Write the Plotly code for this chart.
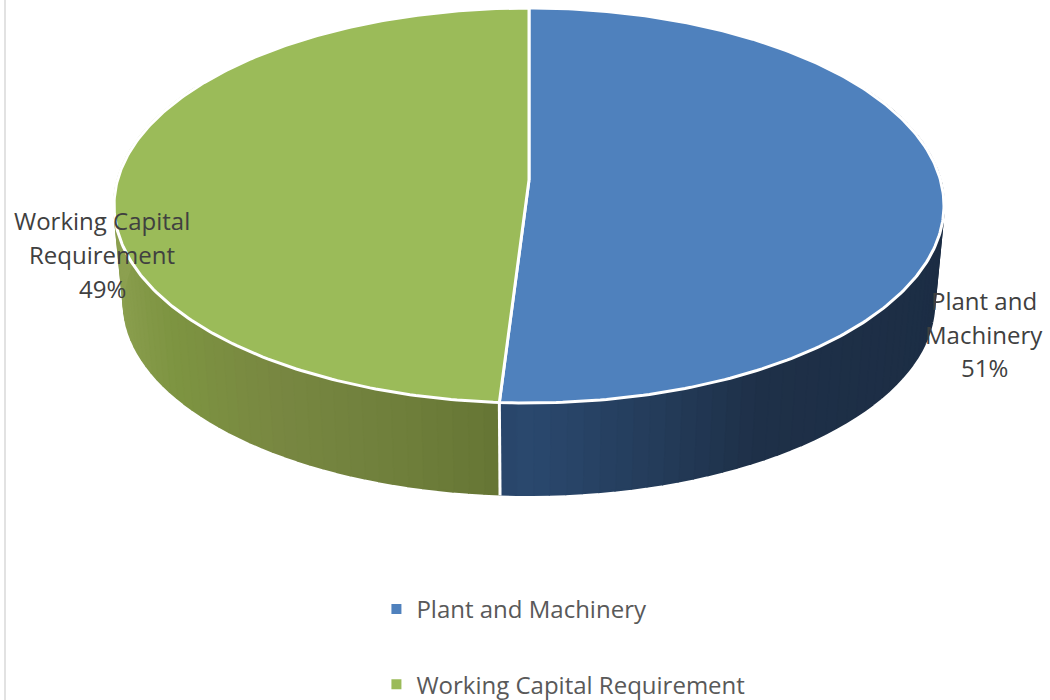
import numpy as np
import plotly.graph_objects as go

# Funding split shown on the pie
categories = ["Plant and Machinery", "Working Capital Requirement"]
shares = [51, 49]
label_lines = [["Plant and", "Machinery"], ["Working Capital", "Requirement"]]

top_colors = ["#4F81BD", "#9BBB59"]
# Side wall shading: (sideways offset from the disc's axis, 0 to 1, colour)
wall_shades = [
    [(0.0, (42, 72, 110)), (0.27, (36, 60, 90)), (0.5, (30, 48, 72)), (1.0, (28, 45, 68))],
    [(0.0, (99, 115, 50)), (0.3, (112, 128, 60)), (0.55, (120, 135, 65)),
     (0.8, (125, 148, 65)), (1.0, (140, 160, 80))],
]
label_centers = [(984, [300, 334, 367]), (102, [220, 254, 288])]

# Perspective disc: the top face and the base share one projection
CX, CY_TOP, CY_BASE = 529.0, 180.0, 278.0
A_TOP, A_BASE, B_TOP, B_BASE, K = 411.5, 402.0, 194.2, 189.0, 0.129


def project(theta_deg, a, b, cy):
    t = np.radians(theta_deg)
    u, v = np.sin(t), np.cos(t)
    w = 1 + K * v
    return CX + a * u / w, cy - b * v / w


def lerp_color(stops, f):
    for (f0, c0), (f1, c1) in zip(stops, stops[1:]):
        if f <= f1:
            s = (f - f0) / (f1 - f0)
            rgb = [round(p + (q - p) * s) for p, q in zip(c0, c1)]
            return f"rgb({rgb[0]},{rgb[1]},{rgb[2]})"
    return "rgb({},{},{})".format(*stops[-1][1])


total = sum(shares)
edges = np.concatenate([[0], np.cumsum(shares) / total * 360])

fig = go.Figure()

# Side walls, as thin shaded strips per slice
for i in range(len(shares)):
    lo, hi = max(edges[i], 60.0), min(edges[i + 1], 300.0)
    steps = np.linspace(lo, hi, 61)
    for j in range(len(steps) - 1):
        arc = np.linspace(steps[j], steps[j + 1], 5)
        xt, yt = project(arc, A_TOP, B_TOP, CY_TOP)
        xb, yb = project(arc[::-1], A_BASE, B_BASE, CY_BASE)
        offset = abs(np.sin(np.radians((steps[j] + steps[j + 1]) / 2)))
        col = lerp_color(wall_shades[i], offset)
        fig.add_trace(go.Scatter(
            x=np.concatenate([xt, xb]), y=np.concatenate([yt, yb]),
            fill="toself", fillcolor=col, mode="lines",
            line=dict(color=col, width=2), hoverinfo="skip", showlegend=False,
        ))

# White seam between the two walls at the front
seam_theta = edges[1]
xt, yt = project(seam_theta, A_TOP, B_TOP, CY_TOP)
xb, yb = project(seam_theta, A_BASE, B_BASE, CY_BASE)
fig.add_trace(go.Scatter(
    x=[xt, xb], y=[yt, yb + 1], mode="lines",
    line=dict(color="white", width=3), hoverinfo="skip", showlegend=False,
))

# Top faces
for i, name in enumerate(categories):
    arc = np.linspace(edges[i], edges[i + 1], 240)
    x, y = project(arc, A_TOP, B_TOP, CY_TOP)
    cx0, cy0 = project(0.0, 0.0, 0.0, CY_TOP)
    fig.add_trace(go.Scatter(
        x=np.concatenate([[cx0], x, [cx0]]), y=np.concatenate([[cy0], y, [cy0]]),
        fill="toself", fillcolor=top_colors[i], mode="lines",
        line=dict(color="white", width=3), hoverinfo="text",
        text=f"{name}: {shares[i]}%", showlegend=False,
    ))

# Legend entries, each in its own group so the gap between them can be set
for i, name in enumerate(categories):
    fig.add_trace(go.Scatter(
        x=[None], y=[None], mode="markers", name=name, legendgroup=name,
        marker=dict(symbol="square", size=10, color=top_colors[i]),
    ))

# Data labels, one annotation per text line
for i, lines in enumerate(label_lines):
    xc, ys = label_centers[i]
    for text, yp in zip(lines + [f"{shares[i]}%"], ys):
        fig.add_annotation(
            x=xc, y=yp, text=text, showarrow=False, xanchor="center", yanchor="middle",
            font=dict(family="Open Sans", size=24, color="#404040"),
        )

fig.update_layout(
    width=1050, height=700, margin=dict(l=0, r=0, t=0, b=0, autoexpand=False),
    paper_bgcolor="white", plot_bgcolor="white",
    xaxis=dict(range=[0, 1050], visible=False, fixedrange=True),
    yaxis=dict(range=[700, 0], visible=False, fixedrange=True),
    showlegend=True,
    legend=dict(
        x=0.3585, y=1 - 587 / 700, xanchor="left", yanchor="top",
        font=dict(family="Open Sans", size=24, color="#595959"),
        tracegroupgap=41, bgcolor="rgba(0,0,0,0)",
    ),
    shapes=[dict(type="line", xref="x", yref="y", x0=5, x1=5, y0=0, y1=700,
                 line=dict(color="#d9d9d9", width=1.5))],
)

fig.write_html("out.html", config=dict(displayModeBar=False))
